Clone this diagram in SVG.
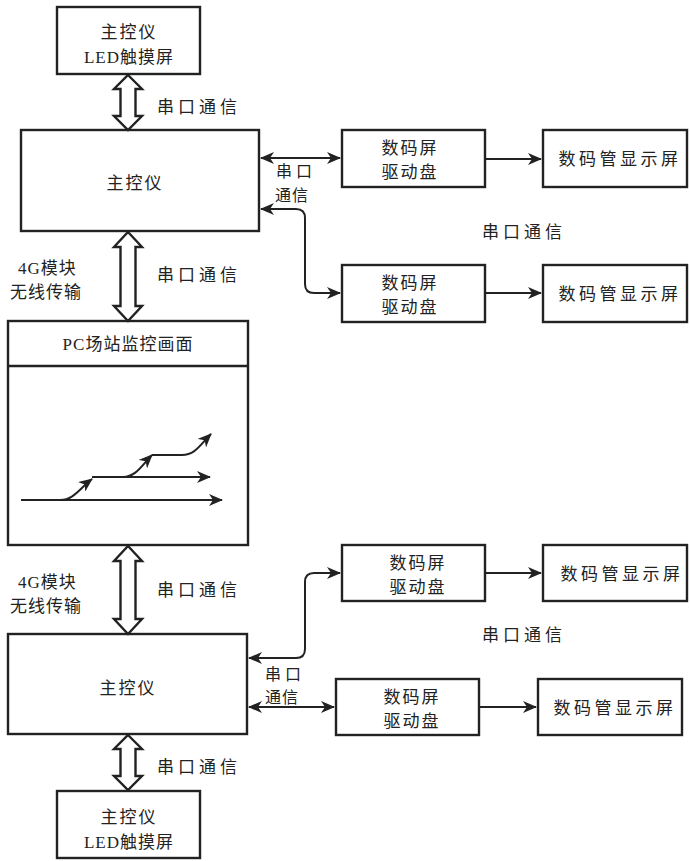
<svg xmlns="http://www.w3.org/2000/svg" width="690" height="861" viewBox="0 0 690 861">
<style>
.box{fill:#fff;stroke:#222;stroke-width:2.4}
.t{font-family:"Noto Sans CJK SC","Liberation Serif",serif;font-size:17px;fill:#222;letter-spacing:2px}
.tl{font-family:"Liberation Serif","Noto Sans CJK SC",serif;font-size:17px;fill:#222;letter-spacing:1px}
.c{text-anchor:middle}
.ln{fill:none;stroke:#222;stroke-width:2}
.big{fill:#fff;stroke:#222;stroke-width:2.4;stroke-linejoin:miter}
.sm{font-size:16px}
</style>
<defs>
<marker id="ah" markerUnits="userSpaceOnUse" markerWidth="16" markerHeight="12" refX="13" refY="6" orient="auto-start-reverse" viewBox="0 0 16 12">
<path d="M0,0 L14,6 L0,12 L4,6 z" fill="#222"/>
</marker>
</defs>
<rect width="690" height="861" fill="#fff"/>

<g id="led-top">
<rect class="box" x="57" y="7" width="143" height="67"/>
<text class="t c" x="129" y="38">主控仪</text>
<text class="tl c" x="129" y="63">LED触摸屏</text>
</g>
<g id="main-top">
<rect class="box" x="21" y="130" width="238" height="101"/>
<text class="t c" x="135" y="189">主控仪</text>
</g>
<g id="pc">
<rect class="box" x="8" y="321" width="240" height="224"/>
<line class="ln" x1="8" y1="366" x2="248" y2="366" style="stroke-width:2.4"/>
<text class="tl c" x="128" y="350">PC场站监控画面</text>
<g id="pc-graph">
<path class="ln" d="M21,500 H222" marker-end="url(#ah)"/>
<path class="ln" d="M60,500 C74,500 80,488 92,479" marker-end="url(#ah)"/>
<path class="ln" d="M92,477 H210" marker-end="url(#ah)"/>
<path class="ln" d="M123,477 C136,477 142,465 152,455" marker-end="url(#ah)"/>
<path class="ln" d="M152,455 H182 C195,455 200,445 211,434" marker-end="url(#ah)"/>
</g>
</g>
<g id="main-bottom">
<rect class="box" x="8" y="634" width="239" height="100"/>
<text class="t c" x="128" y="694">主控仪</text>
</g>
<g id="led-bottom">
<rect class="box" x="57" y="791" width="143" height="67"/>
<text class="t c" x="129" y="823">主控仪</text>
<text class="tl c" x="129" y="848">LED触摸屏</text>
</g>

<g id="drv1"><rect class="box" x="342" y="130" width="143" height="57"/>
<text class="t c" x="410" y="154">数码屏</text><text class="t c" x="410" y="178">驱动盘</text></g>
<g id="disp1"><rect class="box" x="543" y="130" width="144" height="57"/>
<text class="t c" x="620" y="165" style="letter-spacing:3.5px">数码管显示屏</text></g>
<g id="drv2"><rect class="box" x="342" y="265" width="143" height="57"/>
<text class="t c" x="410" y="289">数码屏</text><text class="t c" x="410" y="313">驱动盘</text></g>
<g id="disp2"><rect class="box" x="543" y="265" width="144" height="57"/>
<text class="t c" x="620" y="300" style="letter-spacing:3.5px">数码管显示屏</text></g>
<g id="drv3"><rect class="box" x="342" y="545" width="143" height="56"/>
<text class="t c" x="418" y="569">数码屏</text><text class="t c" x="418" y="593">驱动盘</text></g>
<g id="disp3"><rect class="box" x="543" y="545" width="144" height="56"/>
<text class="t c" x="622" y="580" style="letter-spacing:3.5px">数码管显示屏</text></g>
<g id="drv4"><rect class="box" x="336" y="679" width="143" height="56"/>
<text class="t c" x="412" y="703">数码屏</text><text class="t c" x="412" y="727">驱动盘</text></g>
<g id="disp4"><rect class="box" x="538" y="679" width="144" height="56"/>
<text class="t c" x="615" y="714" style="letter-spacing:3.5px">数码管显示屏</text></g>

<g id="connectors">
<polygon class="big" points="128,75 142,89 135.5,89 135.5,116 142,116 128,130 114,116 120.5,116 120.5,89 114,89"/>
<polygon class="big" points="128,232 142,247 135.5,247 135.5,306 142,306 128,321 114,306 120.5,306 120.5,247 114,247"/>
<polygon class="big" points="128,546 142,561 135.5,561 135.5,619 142,619 128,634 114,619 120.5,619 120.5,561 114,561"/>
<polygon class="big" points="128,735 142,749 135.5,749 135.5,776 142,776 128,790 114,776 120.5,776 120.5,749 114,749"/>

<path class="ln" d="M261,158 H340" marker-start="url(#ah)" marker-end="url(#ah)"/>
<path class="ln" d="M485,159 H541" marker-end="url(#ah)"/>
<path class="ln" d="M261,209 H296 Q305,209 305,218 V284 Q305,293 314,293 H340" marker-start="url(#ah)" marker-end="url(#ah)"/>
<path class="ln" d="M485,293 H541" marker-end="url(#ah)"/>

<path class="ln" d="M249,658 H296 Q305,658 305,649 V582 Q305,573 314,573 H340" marker-start="url(#ah)" marker-end="url(#ah)"/>
<path class="ln" d="M485,573 H541" marker-end="url(#ah)"/>
<path class="ln" d="M249,707 H334" marker-start="url(#ah)" marker-end="url(#ah)"/>
<path class="ln" d="M479,707 H536" marker-end="url(#ah)"/>
</g>

<g id="labels">
<text class="t" x="157" y="113" style="letter-spacing:4px">串口通信</text>
<text class="t" x="157" y="281" style="letter-spacing:4px">串口通信</text>
<text class="t" x="157" y="596" style="letter-spacing:4px">串口通信</text>
<text class="t" x="157" y="773" style="letter-spacing:4px">串口通信</text>
<text class="tl" x="18" y="274">4G模块</text>
<text class="t" x="10" y="298" style="letter-spacing:1px">无线传输</text>
<text class="tl" x="18" y="588">4G模块</text>
<text class="t" x="10" y="612" style="letter-spacing:1px">无线传输</text>
<text class="t sm" x="276" y="177" style="letter-spacing:4px">串口</text>
<text class="t sm" x="275" y="201" style="letter-spacing:1px">通信</text>
<text class="t sm" x="265" y="680" style="letter-spacing:4px">串口</text>
<text class="t sm" x="265" y="703" style="letter-spacing:1px">通信</text>
<text class="t" x="482" y="238" style="letter-spacing:4px">串口通信</text>
<text class="t" x="482" y="641" style="letter-spacing:4px">串口通信</text>
</g>
</svg>
